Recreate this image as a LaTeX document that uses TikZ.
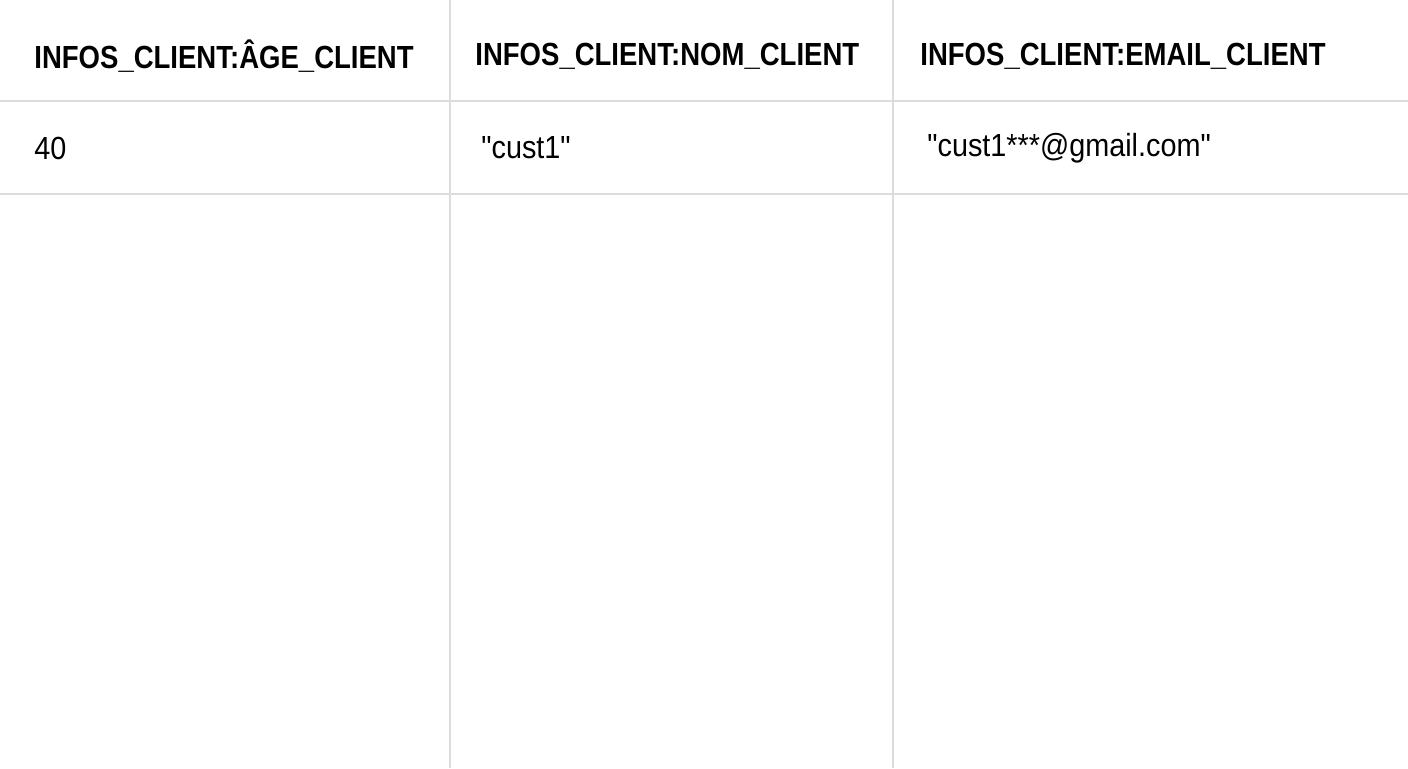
\documentclass[tikz,border=0pt]{standalone}
\usepackage{fontspec}
\setmainfont{Liberation Sans}
\newfontfamily\hdr[FakeStretch=0.86]{Liberation Sans}
\newfontfamily\cel[FakeStretch=0.9]{Liberation Sans}
\begin{document}
\begin{tikzpicture}[x=0.5pt,y=-0.5pt,
  grid/.style={draw={rgb,255:red,220;green,220;blue,220},line width=1pt},
  head/.style={anchor=west,inner sep=0pt,font=\hdr\bfseries\fontsize{16}{18}\selectfont},
  cell/.style={anchor=west,inner sep=0pt,font=\cel\fontsize{16}{18}\selectfont}]
\useasboundingbox (0,0) rectangle (1408,768);
\fill[white] (0,0) rectangle (1408,768);
\draw[grid] (450,0) -- (450,768);
\draw[grid] (893,0) -- (893,768);
\draw[grid] (0,101) -- (1408,101);
\draw[grid] (0,194) -- (1408,194);
\node[head] (h1) at (34,56) {INFOS\_CLIENT:ÂGE\_CLIENT};
\node[head] (h2) at (475,56) {INFOS\_CLIENT:NOM\_CLIENT};
\node[head] (h3) at (920,56) {INFOS\_CLIENT:EMAIL\_CLIENT};
\node[cell] (c1) at (34,148) {40};
\node[cell] (c2) at (481,148) {"cust1"};
\node[cell] (c3) at (927,148) {"cust1***@gmail.com"};
\end{tikzpicture}
\end{document}
